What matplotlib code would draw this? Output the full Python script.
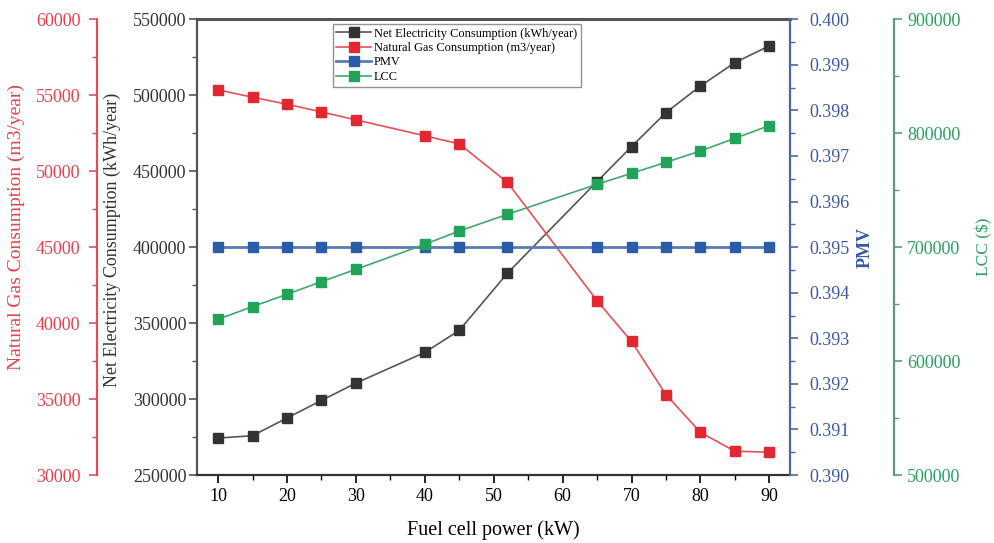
import numpy as np
import matplotlib
matplotlib.use('Agg')
import matplotlib.pyplot as plt
from matplotlib.ticker import MultipleLocator

plt.rcParams['font.family'] = 'Liberation Serif'
plt.rcParams['mathtext.fontset'] = 'stix'

###############################################################################
# Data
###############################################################################
power = [10, 15, 20, 25, 30, 40, 45, 52, 65, 70, 75, 80, 85, 90]
elec  = [274300, 275900, 287500, 299100, 310500, 330700, 345200, 382900,
         443200, 466200, 488600, 506100, 521500, 532500]
gas   = [55350, 54870, 54410, 53900, 53380, 52330, 51800, 49260,
         41470, 38790, 35290, 32810, 31560, 31510]
pmv   = [0.395]*14
lcc   = [636700, 647800, 658600, 669700, 680500, 702500, 714200, 728800,
         755200, 764800, 774500, 784400, 795500, 806700]

c_blk = '#333333'
c_red = '#e3262f'
c_blu = '#2b5ca8'
c_grn = '#22a35a'

###############################################################################
# Figure and axes
###############################################################################
fig = plt.figure(figsize=(9.95, 5.43), dpi=100)
ax = fig.add_axes([0.1977, 0.1252, 0.5963, 0.8393])
ax_gas = ax.twinx()
ax_pmv = ax.twinx()
ax_lcc = ax.twinx()

def style_axis(a, side, color, lab_color, pad=3.5):
    a.yaxis.set_ticks_position(side)
    a.yaxis.set_label_position(side)
    for s in ['top', 'bottom', 'left', 'right']:
        a.spines[s].set_visible(False)
    a.spines[side].set_visible(True)
    a.spines[side].set_color(color)
    a.spines[side].set_linewidth(1.6)
    a.tick_params(axis='y', which='both', direction='out', colors=color,
                  labelcolor=lab_color, labelsize=13)
    a.tick_params(axis='y', which='major', length=6, width=1.2, pad=pad)
    a.tick_params(axis='y', which='minor', length=3.5, width=1.0)

# main (electricity) axis
style_axis(ax, 'left', '#555555', c_blk, pad=1.5)
ax.spines['bottom'].set_visible(True)
ax.spines['top'].set_visible(True)
ax.spines['bottom'].set_linewidth(1.6)
ax.spines['top'].set_linewidth(2.2)
ax.spines['bottom'].set_color('#333333')
ax.spines['top'].set_color('#555555')
ax.set_xlim(6.9, 93)
ax.xaxis.set_major_locator(MultipleLocator(10))
ax.xaxis.set_minor_locator(MultipleLocator(5))
ax.tick_params(axis='x', which='both', direction='out', top=False, labelsize=13)
ax.tick_params(axis='x', which='major', length=6, width=1.2)
ax.tick_params(axis='x', which='minor', length=3.5, width=1.0)
ax.set_ylim(250000, 550000)
ax.yaxis.set_major_locator(MultipleLocator(50000))
ax.yaxis.set_minor_locator(MultipleLocator(25000))
ax.set_xlabel('Fuel cell power (kW)', fontsize=14.5, labelpad=11)
ax.set_ylabel('Net Electricity Consumption (kWh/year)', fontsize=13, color=c_blk)
ax.yaxis.set_label_coords(-0.128, 0.515)

# natural gas axis, offset to the far left
style_axis(ax_gas, 'left', '#e0505a', '#e8404a', pad=6)
ax_gas.spines['left'].set_position(('axes', -0.168))
ax_gas.set_ylim(30000, 60000)
ax_gas.yaxis.set_major_locator(MultipleLocator(5000))
ax_gas.yaxis.set_minor_locator(MultipleLocator(2500))
ax_gas.set_ylabel('Natural Gas Consumption (m3/year)', fontsize=14, color='#e8404a')
ax_gas.yaxis.set_label_coords(-0.290, 0.545)

# PMV axis on the right
style_axis(ax_pmv, 'right', '#4a68a8', '#3a58a8', pad=8)
ax_pmv.set_ylim(0.390, 0.400)
ax_pmv.yaxis.set_major_locator(MultipleLocator(0.001))
ax_pmv.yaxis.set_minor_locator(MultipleLocator(0.0005))
ax_pmv.yaxis.set_major_formatter(plt.FormatStrFormatter('%.3f'))
ax_pmv.set_ylabel('PMV', fontsize=13, color='#3a58a8', fontweight='bold')
ax_pmv.yaxis.set_label_coords(1.112, 0.5)

# LCC axis, offset to the far right
style_axis(ax_lcc, 'right', '#5a9a80', '#2aa060')
ax_lcc.spines['right'].set_position(('axes', 1.175))
ax_lcc.set_ylim(500000, 900000)
ax_lcc.yaxis.set_major_locator(MultipleLocator(100000))
ax_lcc.yaxis.set_minor_locator(MultipleLocator(50000))
ax_lcc.set_ylabel('LCC ($)', fontsize=12.5, color='#2aa060')
ax_lcc.yaxis.set_label_coords(1.314, 0.5)

###############################################################################
# Series
###############################################################################
mk = dict(marker='s', markersize=7.5, linewidth=1.2, clip_on=False)
l1, = ax.plot(power, elec, color='#555555', mfc=c_blk, mec=c_blk,
              label='Net Electricity Consumption (kWh/year)', **mk)
l2, = ax_gas.plot(power, gas, color='#e85058', mfc=c_red, mec=c_red,
                  label='Natural Gas Consumption (m3/year)', **mk)
l3, = ax_pmv.plot(power, pmv, color='#5a7ab8', mfc=c_blu, mec=c_blu,
                  label='PMV', linewidth=2.0, marker='s', markersize=7.5,
                  clip_on=False)
l4, = ax_lcc.plot(power, lcc, color='#40a870', mfc=c_grn, mec=c_grn,
                  label='LCC', **mk)

leg = ax_lcc.legend(handles=[l1, l2, l3, l4], loc='upper left',
                    bbox_to_anchor=(0.229, 0.99), fontsize=8.9,
                    frameon=True, fancybox=False, edgecolor='#777777',
                    handlelength=2.8, handletextpad=0.25, borderpad=0.3,
                    labelspacing=0.2, borderaxespad=0)
leg.get_frame().set_linewidth(1.0)

fig.savefig('out.png', dpi=100, facecolor='white')
